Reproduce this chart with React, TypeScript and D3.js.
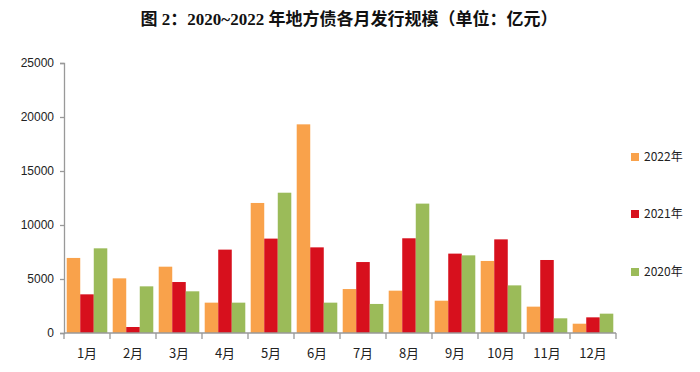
import React, { useEffect, useRef } from 'react';
import * as d3 from 'd3';

const MONTHS = ['1月', '2月', '3月', '4月', '5月', '6月', '7月', '8月', '9月', '10月', '11月', '12月'];
const SERIES = ['2022年', '2021年', '2020年'];
const V2022 = [6950, 5060, 6140, 2810, 12040, 19320, 4070, 3920, 2990, 6670, 2440, 860];
const V2021 = [3580, 555, 4720, 7720, 8740, 7930, 6570, 8770, 7350, 8670, 6760, 1450];
const V2020 = [7840, 4320, 3860, 2810, 12990, 2810, 2690, 11980, 7190, 4410, 1360, 1790];
const Y_TICKS = [0, 5000, 10000, 15000, 20000, 25000];
const COLORS = ['#F9A24B', '#D7101D', '#9BBB59'];

const W = 700;
const H = 372;

export default function App() {
  const svgRef = useRef<SVGSVGElement>(null);

  useEffect(() => {
    const svg = d3.select(svgRef.current);
    svg.selectAll('*').remove();

    const left = 64, right = 616, top = 63, bottom = 333;
    const values = [V2022, V2021, V2020];

    const x = d3.scaleBand<string>().domain(MONTHS).range([left, right]).paddingInner(0).paddingOuter(0);
    const xInner = d3.scaleBand<string>().domain(SERIES).range([0, x.bandwidth()]).paddingOuter(0.2).paddingInner(0);
    const y = d3.scaleLinear().domain([0, 25000]).range([bottom, top]);

    svg.append('text')
      .attr('x', 349).attr('y', 25)
      .attr('text-anchor', 'middle')
      .style('font-family', '"Liberation Serif", "Noto Sans CJK SC", serif')
      .style('font-weight', 'bold')
      .style('font-size', '17px')
      .style('fill', '#111')
      .text('图 2：2020~2022 年地方债各月发行规模（单位：亿元）');

    // bars
    SERIES.forEach((s, si) => {
      svg.append('g').selectAll('rect').data(values[si]).enter().append('rect')
        .attr('x', (_, i) => (x(MONTHS[i]) ?? 0) + (xInner(s) ?? 0))
        .attr('y', d => y(d))
        .attr('width', xInner.bandwidth())
        .attr('height', d => bottom - y(d))
        .attr('fill', COLORS[si]);
    });

    // y axis
    const yAxis = svg.append('g').attr('transform', `translate(${left},0)`)
      .call(d3.axisLeft(y).tickValues(Y_TICKS).tickSize(4).tickPadding(6).tickFormat(d3.format('d')));
    yAxis.select('.domain').attr('stroke', '#999').attr('stroke-width', 1.3);
    yAxis.selectAll('.tick line').attr('stroke', '#999').attr('stroke-width', 1.3);
    yAxis.selectAll('.tick text')
      .style('font-family', '"Liberation Sans", Arial, sans-serif')
      .style('font-size', '12px').style('fill', '#222');

    // x axis
    const xg = svg.append('g');
    xg.append('line').attr('x1', left).attr('x2', right).attr('y1', bottom).attr('y2', bottom)
      .attr('stroke', '#999').attr('stroke-width', 1.3);
    xg.selectAll('line.t').data(d3.range(MONTHS.length + 1)).enter().append('line')
      .attr('class', 't')
      .attr('x1', i => left + i * x.step()).attr('x2', i => left + i * x.step())
      .attr('y1', bottom).attr('y2', bottom + 6)
      .attr('stroke', '#999').attr('stroke-width', 1.3);
    xg.selectAll('text').data(MONTHS).enter().append('text')
      .attr('x', d => (x(d) ?? 0) + x.bandwidth() / 2)
      .attr('y', 358)
      .attr('text-anchor', 'middle')
      .style('font-family', '"Noto Sans CJK SC", sans-serif')
      .style('font-size', '13px').style('fill', '#222')
      .text(d => d);

    // legend
    const legY = [157, 214, 272];
    const leg = svg.append('g');
    SERIES.forEach((s, i) => {
      leg.append('rect').attr('x', 631).attr('y', legY[i] - 4).attr('width', 8).attr('height', 8).attr('fill', COLORS[i]);
      leg.append('text').attr('x', 644).attr('y', legY[i]).attr('dy', '0.35em')
        .style('font-family', '"Noto Sans CJK SC", sans-serif')
        .style('font-size', '12px').style('fill', '#222')
        .text(s);
    });
  }, []);

  return (
    <div style={{ position: 'absolute', left: 0, top: 0 }}>
      <svg ref={svgRef} width={W} height={H} style={{ display: 'block', background: '#fff' }} />
    </div>
  );
}
